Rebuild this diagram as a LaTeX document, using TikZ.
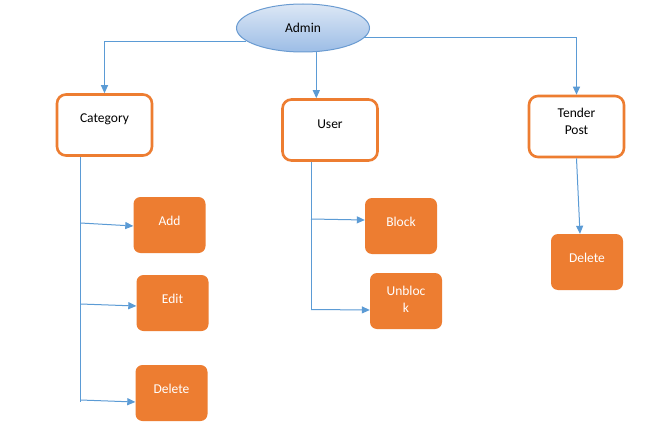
\documentclass[tikz,border=0pt]{standalone}
\usepackage{fontspec}
\setmainfont{Carlito}
\usetikzlibrary{arrows.meta,shapes.geometric,calc}
\definecolor{lblue}{HTML}{5B9BD5}
\definecolor{orng}{HTML}{ED7D31}
\definecolor{elltop}{HTML}{DCE7F5}
\definecolor{ellbot}{HTML}{9CBDE6}
\definecolor{elldraw}{HTML}{6A9BD1}
\begin{document}
\begin{tikzpicture}[x=1pt,y=-1pt,
  conn/.style={draw=lblue,line width=1pt},
  arr/.style={conn,-{Triangle[length=8pt,width=7pt]}},
  obox/.style={draw=orng,line width=2.6pt,fill=white,rounded corners=9pt,minimum width=95pt,minimum height=61pt,inner sep=0pt},
  fbox/.style={fill=orng,rounded corners=7pt,minimum width=72pt,minimum height=56pt,inner sep=0pt},
  dtxt/.style={font=\fontsize{13.5}{17}\selectfont,text=black,align=center,inner sep=0pt},
  wtxt/.style={dtxt,text=white},
]
\fill[white] (0,0) rectangle (661,428);
\useasboundingbox (0,0) rectangle (661,428);

% top
\node[ellipse,draw=elldraw,line width=1pt,top color=elltop,bottom color=ellbot,minimum width=133pt,minimum height=48pt,inner sep=0pt] (admin) at (303,28) {};
\node[dtxt] (adminl) at (admin.center) {Admin};

% second level
\node[obox] (cat) at (104.5,125) {};
\node[dtxt] (catl) at ($(cat.north)+(0,26)$) {Category};
\node[obox] (usr) at (330,130) {};
\node[dtxt] (usrl) at ($(usr.north)+(0,26)$) {User};
\node[obox] (tp) at (576.5,126.5) {};
\node[dtxt] (tpl) at ($(tp.north)+(0,27)$) {Tender\\Post};

% leaves
\node[fbox] (add) at (169.5,225) {};
\node[wtxt] (addl) at ($(add.north)+(0,24)$) {Add};
\node[fbox] (edit) at (172.5,303) {};
\node[wtxt] (editl) at ($(edit.north)+(0,24)$) {Edit};
\node[fbox] (delone) at (171.5,393) {};
\node[wtxt] (delonel) at ($(delone.north)+(0,24)$) {Delete};
\node[fbox] (blk) at (401,226) {};
\node[wtxt] (blkl) at ($(blk.north)+(0,24)$) {Block};
\node[fbox] (unb) at (406,301) {};
\node[wtxt] (unbl) at ($(unb.north)+(0,27)$) {Unbloc\\k};
\node[fbox] (deltwo) at (587,262) {};
\node[wtxt] (deltwol) at ($(deltwo.north)+(0,24)$) {Delete};

% connectors from Admin
\draw[arr] (admin.193) -| (cat.north);
\draw[arr] (admin.299) -- (admin.299 |- usr.north);
\draw[arr] (admin.351) -| (tp.north);

% Category branches
\coordinate (ct) at ($(cat.south)+(-24,0)$);
\coordinate (cend) at (80.5,402);
\coordinate (bone) at (80.5,223);
\coordinate (btwo) at (80.5,304);
\coordinate (bthree) at (80.5,400);
\draw[conn] (ct) -- (cend);
\draw[arr] (bone) -- ($(add.west)+(0,1)$);
\draw[arr] (btwo) -- ($(edit.west)+(0,3)$);
\draw[arr] (bthree) -- ($(delone.west)+(0,9)$);

% User branches
\coordinate (ut) at ($(usr.south)+(-19,0)$);
\coordinate (uend) at (311,310);
\coordinate (bfour) at (311,219);
\coordinate (bfive) at (311,309.5);
\draw[conn] (ut) -- (uend);
\draw[arr] (bfour) -- ($(blk.west)+(0,-6)$);
\draw[arr] (bfive) -- ($(unb.west)+(0,9)$);

% Tender branch
\draw[arr] (tp.south) -- ($(deltwo.north)+(-7,0)$);
\end{tikzpicture}
\end{document}
